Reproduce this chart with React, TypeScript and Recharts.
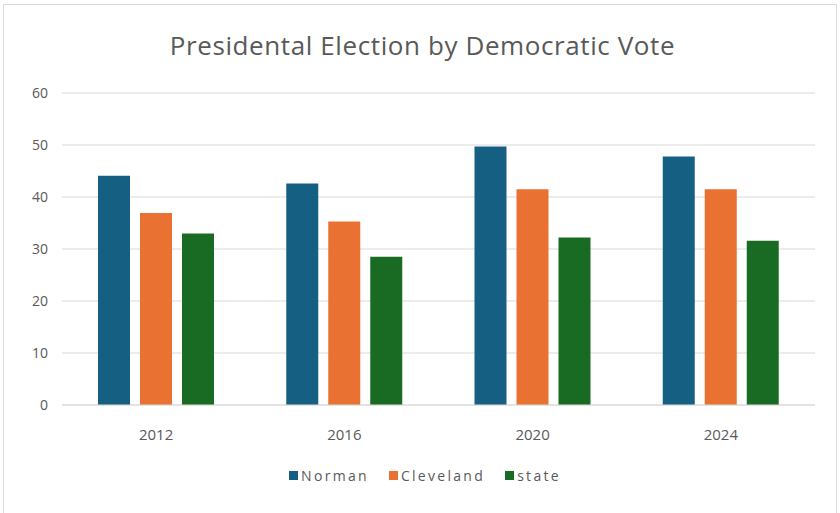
import { Bar, BarChart, CartesianGrid, XAxis, YAxis } from 'recharts';

const YEARS = ['2012', '2016', '2020', '2024'];
const NORMAN = [44.1, 42.6, 49.7, 47.8];
const CLEVELAND = [36.9, 35.3, 41.5, 41.5];
const STATE = [33.0, 28.5, 32.2, 31.6];
const Y_TICKS = [0, 10, 20, 30, 40, 50, 60];

const SERIES = [
  { key: 'Norman', color: '#156082' },
  { key: 'Cleveland', color: '#E97132' },
  { key: 'state', color: '#196B24' },
];

const data = YEARS.map((year, i) => ({
  year,
  Norman: NORMAN[i],
  Cleveland: CLEVELAND[i],
  state: STATE[i],
}));

const FONT = '"Open Sans", "Noto Sans", sans-serif';
const TEXT = '#595959';

export default function App() {
  return (
    <div
      style={{
        position: 'absolute',
        left: 0,
        top: 0,
        width: 840,
        height: 513,
        background: '#fff',
        fontFamily: FONT,
        overflow: 'hidden',
      }}
    >
      {/* faint chart frame */}
      <div
        style={{
          position: 'absolute',
          left: 3,
          top: 4,
          width: 834,
          height: 520,
          border: '1px solid #d9d9d9',
          boxSizing: 'border-box',
        }}
      />
      <div
        style={{
          position: 'absolute',
          top: 27,
          left: 0,
          width: 845,
          textAlign: 'center',
          fontSize: 26,
          letterSpacing: 0.6,
          lineHeight: '36px',
          color: TEXT,
        }}
      >
        Presidental Election by Democratic Vote
      </div>
      <BarChart
        width={840}
        height={513}
        data={data}
        margin={{ top: 93, right: 25, bottom: 78, left: 12 }}
        barGap={10}
        barCategoryGap="19%"
        style={{ position: 'absolute', left: 0, top: 0 }}
      >
        <CartesianGrid vertical={false} stroke="#d9d9d9" />
        <XAxis
          dataKey="year"
          height={30}
          axisLine={{ stroke: '#d9d9d9' }}
          tickLine={false}
          tick={{ fill: TEXT, fontSize: 15, fontFamily: FONT }}
          tickMargin={18}
        />
        <YAxis
          domain={[0, 60]}
          ticks={Y_TICKS}
          width={50}
          axisLine={false}
          tickLine={false}
          tick={{ fill: TEXT, fontSize: 14, fontFamily: FONT }}
          tickMargin={8}
        />
        {SERIES.map((s) => (
          <Bar key={s.key} dataKey={s.key} fill={s.color} barSize={32} isAnimationActive={false} />
        ))}
      </BarChart>
      <div
        style={{
          position: 'absolute',
          top: 466,
          left: 0,
          width: 850,
          display: 'flex',
          justifyContent: 'center',
          gap: 20,
          fontSize: 14,
          letterSpacing: 2.3,
          color: TEXT,
        }}
      >
        {SERIES.map((s) => (
          <div key={s.key} style={{ display: 'flex', alignItems: 'center', gap: 3 }}>
            <span style={{ width: 9, height: 9, background: s.color, display: 'inline-block' }} />
            <span>{s.key}</span>
          </div>
        ))}
      </div>
    </div>
  );
}
